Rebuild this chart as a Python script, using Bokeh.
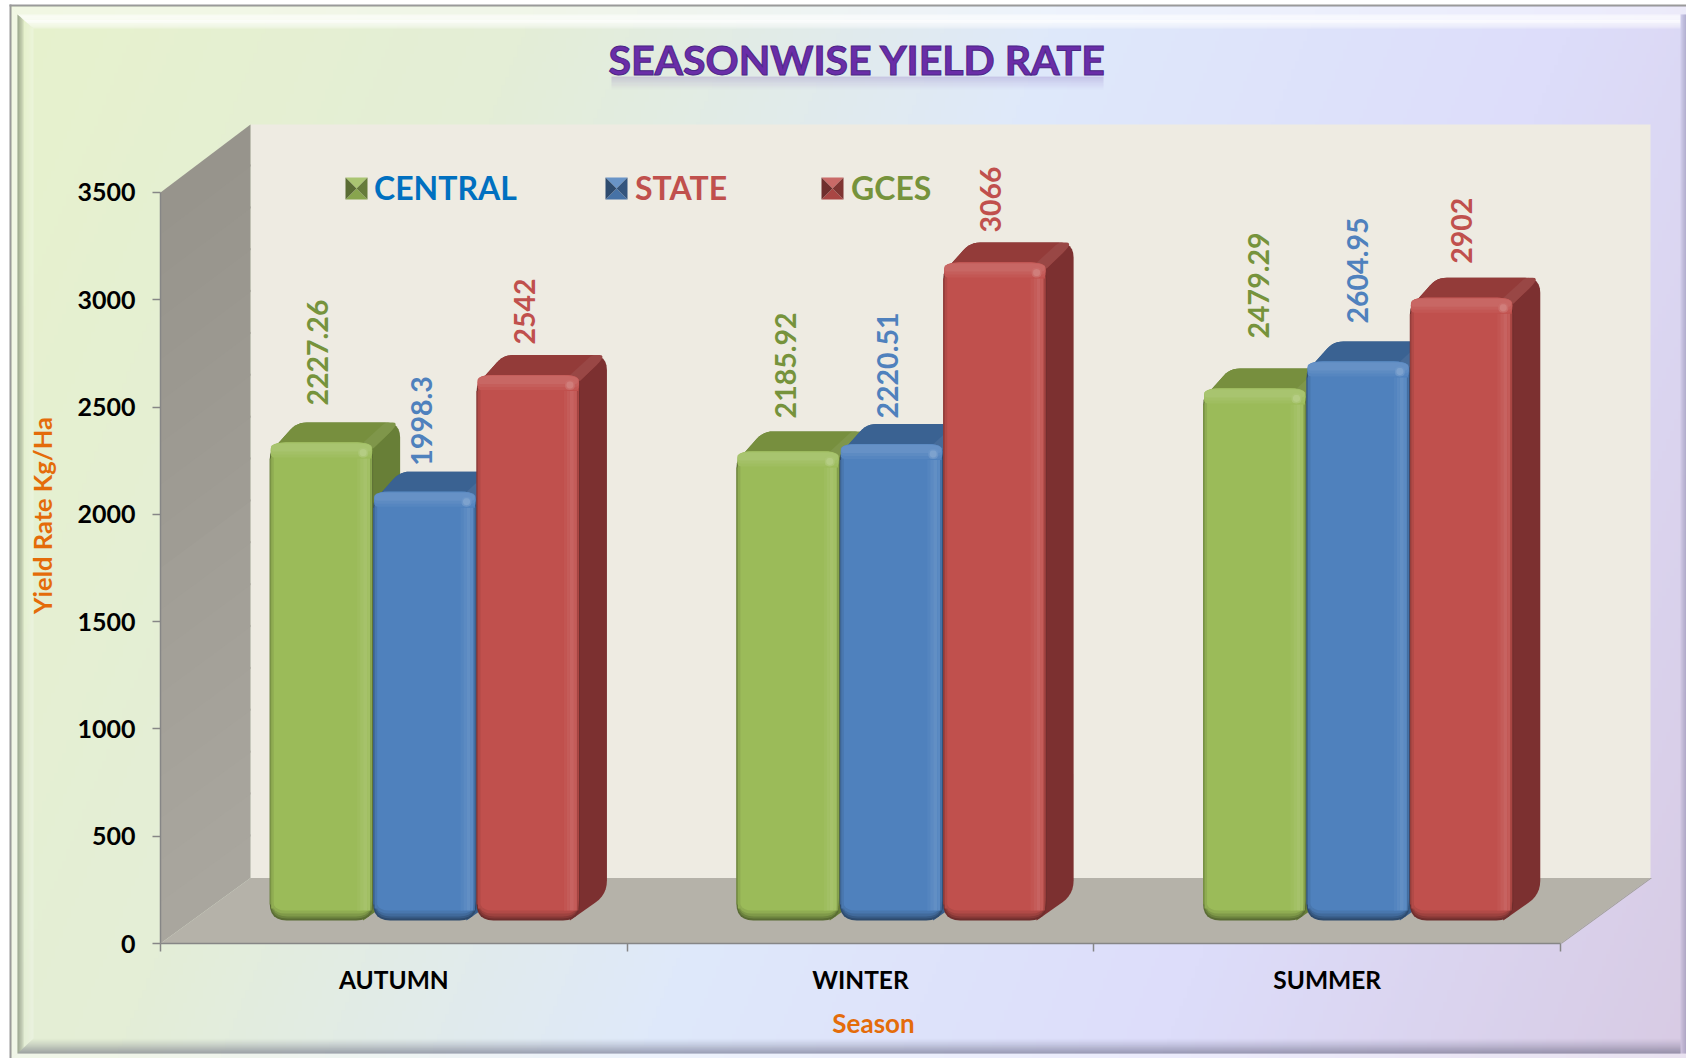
import math
import numpy as np
from bokeh.core.properties import value
from bokeh.embed import file_html
from bokeh.models import ColumnDataSource, FixedTicker, LinearAxis, Range1d
from bokeh.plotting import figure
from bokeh.resources import INLINE

categories = ["AUTUMN", "WINTER", "SUMMER"]
series = ["CENTRAL", "STATE", "GCES"]
central = [2227.26, 2185.92, 2479.29]
state = [1998.3, 2220.51, 2604.95]
gces = [2542, 3066, 2902]
y_ticks = [0, 500, 1000, 1500, 2000, 2500, 3000, 3500]
title_text = "SEASONWISE YIELD RATE"
x_title = "Season"
y_title = "Yield Rate Kg/Ha"

W, H = 1686, 1058
XS = 466.67          # px per category
YS = 0.2146          # px per unit
FONT = "Lato"
LINE = "#868686"
MAIN = ["#9BBB59", "#4F81BD", "#C0504D"]
TOPC = ["#778F3E", "#3A6292", "#933B39"]
SIDE = ["#687F37", "#385E8C", "#7C3030"]
LABC = ["#76933C", "#4F81BD", "#C0504D"]
LEGC = ["#0070C0", "#C0504D", "#76933C"]
# hand placement of the value labels (px): lift above the bar front, sideways shift
lift = [[37, 33, 50], [26, 25.5, 38], [30.5, 30, 34]]
shift = [[-4, -3, 4], [-3.5, -4, -1], [-3.5, -4, 0]]


def X(px):
    return (px - 160) / XS


def Y(py):
    return (943 - py) / YS


def dx(px):
    return px / XS


def dy(px):
    return px / YS


def hex2(c):
    return tuple(int(c[i:i + 2], 16) for i in (1, 3, 5))


def mix(c, d, a):
    c1, c2 = hex2(c), hex2(d)
    return "#%02x%02x%02x" % tuple(round(u + (v - u) * a) for u, v in zip(c1, c2))


p = figure(width=W, height=H, output_backend="svg", toolbar_location=None,
           x_range=Range1d(X(0), X(W)), y_range=Range1d(Y(H), Y(0)),
           x_axis_type=None, y_axis_type=None, min_border=0,
           outline_line_color=None, background_fill_color="white",
           border_fill_color="white")
p.grid.visible = False

# ---------- chart-area gradient
stops_t = [0, .25, .5, .75, 1]
stops_c = [hex2(c) for c in ["#E7F2CD", "#E4EED7", "#DFE9FA", "#DDDDFA", "#D8CBE4"]]
GW, GH = 420, 262
gx, gy = np.meshgrid(np.linspace(0, 1, GW), np.linspace(1, 0, GH))
gt = 0.8 * gx + 0.2 * gy
img = np.zeros((GH, GW, 4), dtype=np.uint8)
for k in range(3):
    img[..., k] = np.interp(gt, stops_t, [c[k] for c in stops_c])
img[..., 3] = 255
img32 = img.view(np.uint32).reshape(GH, GW)
ix0 = 10
iy0 = 5
p.image_rgba(image=[img32], x=[X(ix0)], y=[Y(1058)], dw=[X(1686) - X(ix0)], dh=[Y(iy0) - Y(1058)])

xs, ys, fc, fa = [], [], [], []


def poly(pts, color, alpha=1.0):
    xs.append([q[0] for q in pts])
    ys.append([q[1] for q in pts])
    fc.append(color)
    fa.append(alpha)


def rounded(pts, r):
    """pts in data units; r: corner radius in px (number or per-corner list)."""
    n = len(pts)
    rs = r if isinstance(r, (list, tuple)) else [r] * n
    pxp = [(a * XS, b * YS) for a, b in pts]
    out = []
    for i in range(n):
        a, b, c = pxp[i - 1], pxp[i], pxp[(i + 1) % n]
        ri = rs[i]
        if ri <= 0:
            out.append(b)
            continue
        la = math.hypot(a[0] - b[0], a[1] - b[1])
        lc = math.hypot(c[0] - b[0], c[1] - b[1])
        ra = min(ri, la / 2)
        rc = min(ri, lc / 2)
        s = (b[0] + (a[0] - b[0]) * ra / la, b[1] + (a[1] - b[1]) * ra / la)
        e = (b[0] + (c[0] - b[0]) * rc / lc, b[1] + (c[1] - b[1]) * rc / lc)
        for t in np.linspace(0, 1, 7):
            out.append(((1 - t) ** 2 * s[0] + 2 * t * (1 - t) * b[0] + t * t * e[0],
                        (1 - t) ** 2 * s[1] + 2 * t * (1 - t) * b[1] + t * t * e[1]))
    return [(a / XS, b / YS) for a, b in out]


def box(a, b, c, d):
    return [(a, c), (b, c), (b, d), (a, d)]


# ---------- frame bevels (px placed, mitred)
def band(x0, y0, x1, y1, i, color, alpha):
    """ring side i (0 top, 1 left, 2 bottom, 3 right) between outer & inner rectangles"""
    pts = {0: [(x0[0], y0[0]), (x0[1], y0[0]), (x1[1], y1[0]), (x1[0], y1[0])],
           1: [(x0[0], y0[0]), (x1[0], y1[0]), (x1[0], y1[1]), (x0[0], y0[1])],
           2: [(x0[0], y0[1]), (x0[1], y0[1]), (x1[1], y1[1]), (x1[0], y1[1])],
           3: [(x0[1], y0[0]), (x1[1], y1[0]), (x1[1], y1[1]), (x0[1], y0[1])]}[i]
    poly([(X(a), Y(b)) for a, b in pts], color, alpha)


# light outer band
ol = (11, 1690)
ot = (6, 1058)
il = (17, 1690)
it = (14, 1053)
for side in (0, 1, 2):
    band(ol, ot, il, it, side, "#FFFFFF", 0.45)
# stepped bevel
N = 15
for k in range(N):
    t0, t1 = k / N, (k + 1) / N
    xa = (17 + 16 * t0, 1680 - 0 * t0)
    ya = (14 + 14 * t0, 1053 - 15 * t0)
    xb = (17 + 16 * t1, 1680 - 0 * t1)
    yb = (14 + 14 * t1, 1053 - 15 * t1)
    band(xa, ya, xb, yb, 0, "#FFFFFF", 0.95 - 0.75 * t0 ** 2.2)
    band(xa, ya, xb, yb, 1, "#3D4A3A" if t0 < .4 else "#FFFFFF",
         (0.42 - t0) * 1.1 if t0 < .4 else (t0 - .4) * 0.5)
    band(xa, ya, xb, yb, 2, "#50506A", 0.55 * (1 - t0) ** 1.4)
for k in range(6):
    poly(box(X(1680 + k), X(1681 + k), Y(1053), Y(14)), "#50507A", 0.08 + 0.05 * k)

# grey outer edge
poly(box(X(9), X(11), Y(1058), Y(4)), "#9A9A9A")
poly(box(X(9), X(1686), Y(6), Y(4)), "#9A9A9A")

# title reflection haze
for k in range(14):
    poly(box(X(611), X(1103), Y(76 + k + 1.3), Y(76 + k)), "#7A55B8", 0.20 * (1 - k / 14) ** 1.4)

# ---------- 3-D chart box, built from the axis ranges
X_END = len(categories)
Y_END = y_ticks[-1]
DX, DY, DYT = dx(90), dy(65.5), dy(68)
wall_n = 18
poly([(DX, DY), (X_END + DX, DY), (X_END + DX, Y_END + DYT), (DX, Y_END + DYT)], "#EEEBE2")
for k in range(wall_n):
    a, b = Y_END * k / wall_n, Y_END * (k + 1) / wall_n
    b2 = b if k == wall_n - 1 else b + dy(2)
    ta = DY + (DYT - DY) * k / wall_n
    tb = DY + (DYT - DY) * (k + 1) / wall_n
    poly([(0, a), (DX, a + ta), (DX, b2 + tb), (0, b2)],
         mix("#A9A69E", "#97948C", k / (wall_n - 1)))
poly([(0, 0), (DX, DY), (X_END + DX, DY), (X_END, 0)], "#B5B2A9")
# right floor edge
poly([(X_END, 0), (X_END + DX, DY), (X_END + DX + dx(1.5), DY), (X_END + dx(1.5), 0)], "#9F9D96")

# ---------- bars
OX, OY = dx(31), dy(23)
BW = dx(103.4)
DBX, DBY = dx(27), dy(20)
for c in range(len(categories)):
    for s, vals in enumerate((central, state, gces)):
        v = vals[c]
        xl = c + 0.5 + OX + (s - 1.5) * BW
        xr = xl + BW
        yb = OY
        yt = v + OY
        m = MAIN[s]
        # top + side silhouette
        poly(rounded([(xl + dx(2), yt - dy(8)), (xl + DBX, yt + DBY), (xr + DBX, yt + DBY),
                      (xr + DBX, yb + dy(26)), (xr - dx(10), yb)], [3, 10, 15, 14, 0]), SIDE[s])
        # top
        poly(rounded([(xl + dx(2), yt - dy(8)), (xl + DBX, yt + DBY), (xr + DBX, yt + DBY),
                      (xr, yt - dy(6))], [3, 10, 15, 2]), TOPC[s])
        poly(rounded([(xr - dx(12), yt - dy(2)), (xr + dx(12), yt + DBY), (xr + DBX, yt + DBY),
                      (xr, yt - dy(6))], [0, 4, 15, 0]), mix(TOPC[s], "#FFFFFF", 0.06))
        # front
        poly(rounded(box(xl, xr, yb, yt), 17), mix(m, "#000000", 0.42))
        poly(rounded(box(xl + dx(1), xr - dx(1), yb + dy(2), yt), 16), mix(m, "#000000", 0.30))
        poly(rounded(box(xl + dx(1.5), xr - dx(1), yb + dy(4), yt), 16), mix(m, "#000000", 0.18))
        poly(rounded(box(xl + dx(2), xr - dx(1.5), yb + dy(7), yt), [13, 13, 14, 14]), mix(m, "#000000", 0.08))
        poly(rounded(box(xl + dx(2.5), xr - dx(1.5), yb + dy(10), yt), [13, 13, 14, 14]), m)
        # left bevel
        poly(box(xl, xl + dx(1.5), yb + dy(16), yt - dy(16)), mix(m, "#000000", 0.22))
        poly(box(xl + dx(1.5), xl + dx(4), yb + dy(12), yt - dy(14)), mix(m, "#000000", 0.08))
        # right bevel
        for j, (a, b, q) in enumerate(((16, 13, .03), (13, 10, .07), (10, 6, .11), (6, 3, .07), (3, 1.5, 0))):
            poly(box(xr - dx(a), xr - dx(b), yb + dy(10), yt - dy(16)),
                 mix(m, "#FFFFFF", q) if q else mix(m, "#000000", 0.15))
        # upper bevel
        poly(rounded(box(xl + dx(1), xr - dx(1), yt - dy(15), yt), [4, 4, 15, 15]), mix(m, "#FFFFFF", 0.04))
        poly(rounded(box(xl + dx(1), xr - dx(1), yt - dy(12), yt), [4, 4, 15, 15]), mix(m, "#FFFFFF", 0.08))
        poly(rounded(box(xl + dx(1.5), xr - dx(2), yt - dy(9), yt - dy(1)), [3, 3, 13, 13]), mix(m, "#FFFFFF", 0.13))
        # highlight on the corner
        poly(rounded(box(xr - dx(15), xr - dx(5), yt - dy(15), yt - dy(5)), 5), mix(m, "#FFFFFF", 0.16))
        poly(rounded(box(xr - dx(13.5), xr - dx(6.5), yt - dy(13.5), yt - dy(6.5)), 3.5), mix(m, "#FFFFFF", 0.26))

# ---------- legend swatches
sw_left = [345, 605, 821]
for s, x0 in enumerate(sw_left):
    m = MAIN[s]
    a, b, c_, d = X(x0), X(x0 + 22), Y(199), Y(177)
    cx, cy = (a + b) / 2, (c_ + d) / 2
    poly([(a, d), (b, d), (cx, cy)], mix(m, "#FFFFFF", 0.15))
    poly([(a, c_), (b, c_), (cx, cy)], mix(m, "#000000", 0.12))
    poly([(a, c_), (a, d), (cx, cy)], mix(m, "#000000", 0.42))
    poly([(b, c_), (b, d), (cx, cy)], mix(m, "#000000", 0.34))

p.patches("xs", "ys", source=ColumnDataSource(dict(xs=xs, ys=ys, fc=fc, fa=fa)),
          fill_color="fc", fill_alpha="fa", line_color=None)

# ---------- value labels
lx, ly, lt, lc = [], [], [], []
for c in range(len(categories)):
    for s, vals in enumerate((central, state, gces)):
        v = vals[c]
        lx.append(c + 0.5 + OX + (s - 1) * BW + dx(shift[s][c]))
        ly.append(v + OY + dy(lift[s][c]))
        lt.append(f"{v:g}")
        lc.append(LABC[s])
p.text("x", "y", "t", source=ColumnDataSource(dict(x=lx, y=ly, t=lt, c=lc)), angle=math.pi / 2,
       text_color="c", text_font=value(FONT), text_font_style="bold", text_font_size="28.5px",
       text_align="left", text_baseline="middle")

# ---------- legend texts
leg_left = [373.5, 634.5, 850.5]
p.text([X(q) for q in leg_left], [Y(187)] * 3, series, text_color=LEGC,
       text_font=value(FONT), text_font_style="bold", text_font_size="32px",
       text_align="left", text_baseline="middle")

# ---------- titles
p.text([X(857)], [Y(59)], [title_text], text_color="#6A2DA8", text_font=value(FONT),
       text_font_style="bold", text_font_size="41px", text_align="center", text_baseline="middle",
       text_outline_color="#4A2585")
p.text([X(873)], [Y(1022)], [x_title], text_color="#E46C0A", text_font=value(FONT),
       text_font_style="bold", text_font_size="26px", text_align="center", text_baseline="middle")
p.text([X(41)], [Y(515)], [y_title], angle=math.pi / 2, text_color="#E46C0A", text_font=value(FONT),
       text_font_style="bold", text_font_size="25.5px", text_align="center", text_baseline="middle")

# ---------- axes
ya = LinearAxis(fixed_location=0, bounds=(0, Y_END), ticker=FixedTicker(ticks=y_ticks))
ya.axis_line_color = LINE
ya.axis_line_width = 1.5
ya.major_tick_line_color = LINE
ya.major_tick_line_width = 1.5
ya.major_tick_out = 8
ya.major_tick_in = 0
ya.minor_tick_line_color = None
ya.major_label_text_font = FONT
ya.major_label_text_font_style = "bold"
ya.major_label_text_font_size = "25px"
ya.major_label_text_color = "#000000"
ya.major_label_standoff = 17
p.add_layout(ya, "left")

centers = [i + 0.5 for i in range(len(categories))]
xa = LinearAxis(fixed_location=0, bounds=(0, X_END),
                ticker=FixedTicker(ticks=centers, minor_ticks=list(range(X_END + 1))))
xa.major_label_overrides = {c: n for c, n in zip(centers, categories)}
xa.axis_line_color = LINE
xa.axis_line_width = 1.5
xa.major_tick_line_color = None
xa.major_tick_out = 8
xa.minor_tick_line_color = LINE
xa.minor_tick_line_width = 1.5
xa.minor_tick_out = 8
xa.minor_tick_in = 0
xa.major_label_text_font = FONT
xa.major_label_text_font_style = "bold"
xa.major_label_text_font_size = "24.5px"
xa.major_label_text_color = "#000000"
xa.major_label_standoff = 13
p.add_layout(xa, "below")

open("out.html", "w").write(file_html(p, INLINE))
